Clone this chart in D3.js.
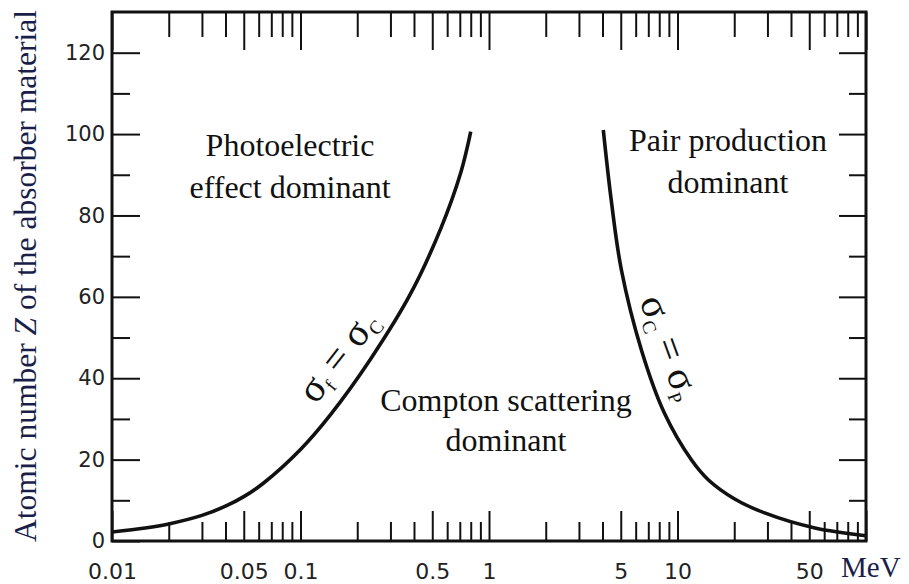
<!DOCTYPE html>
<html>
<head>
<meta charset="utf-8">
<script src="https://cdn.jsdelivr.net/npm/d3@7"></script>
<style>
  html, body { margin: 0; padding: 0; background: #ffffff; }
  svg { display: block; }
</style>
</head>
<body>
<svg id="chart" width="909" height="584"></svg>
<script>
// ---------- data ----------
// boundary sigma_f = sigma_C (photoelectric / Compton)
const photoE = [0.01, 0.015, 0.02, 0.03, 0.04, 0.05, 0.0635, 0.1, 0.144, 0.236, 0.385, 0.556, 0.71, 0.80];
const photoZ = [2.2, 3.2, 4.2, 6.3, 8.55, 10.9, 14.2, 22.5, 31.0, 44.8, 60.9, 76.9, 90.7, 100.6];
// boundary sigma_C = sigma_p (Compton / pair production)
const pairE = [4.04, 4.45, 5.04, 6.44, 8.53, 11.87, 14.6, 20.0, 29.0, 53.6, 100];
const pairZ = [101, 83.8, 66.6, 46.9, 31.4, 19.9, 15.0, 10.4, 6.9, 3.2, 1.3];

const xLabelTicks = [0.01, 0.05, 0.1, 0.5, 1, 5, 10, 50];
const xMajorTicks = [0.01, 0.05, 0.1, 0.5, 1, 5, 10, 50, 100];
const xMinorTicks = [0.02, 0.03, 0.04, 0.06, 0.07, 0.08, 0.09,
                     0.2, 0.3, 0.4, 0.6, 0.7, 0.8, 0.9,
                     2, 3, 4, 6, 7, 8, 9,
                     20, 30, 40, 60, 70, 80, 90];
const yMajorTicks = [0, 20, 40, 60, 80, 100, 120];
const yMinorTicks = [10, 30, 50, 70, 90, 110];

const xUnit = "MeV";
const yTitle = "Atomic number ";
const yTitleVar = "Z";
const yTitleRest = " of the absorber material";

// ---------- layout ----------
const L = 112, R = 866, T = 12, B = 541;
const svg = d3.select("#chart");

const x = d3.scaleLog().domain([0.01, 100]).range([L, R]);
const y = d3.scaleLinear().domain([0, 130]).range([B, T]);

const ink = "#111";
const labelFont = "'DejaVu Sans', sans-serif";
const serif = "'Liberation Serif', 'Times New Roman', serif";

function styleAxis(g, fontSize) {
  g.select(".domain").remove();
  g.selectAll(".tick line").attr("stroke", ink).attr("stroke-width", 2);
  g.selectAll(".tick text").attr("fill", "#222")
    .attr("font-family", labelFont).attr("font-size", fontSize);
}

// bottom axis
svg.append("g").attr("transform", `translate(0,${B})`)
  .call(d3.axisBottom(x).tickValues(xMinorTicks).tickSize(-19).tickFormat(""))
  .call(g => styleAxis(g, 21));
svg.append("g").attr("transform", `translate(0,${B})`)
  .call(d3.axisBottom(x).tickValues(xMajorTicks).tickSize(-30).tickPadding(22)
        .tickFormat(d => xLabelTicks.includes(d) ? d3.format("~g")(d) : ""))
  .call(g => styleAxis(g, 22));

// top axis
svg.append("g").attr("transform", `translate(0,${T})`)
  .call(d3.axisTop(x).tickValues(xMinorTicks).tickSize(-25).tickFormat(""))
  .call(g => styleAxis(g, 21));
svg.append("g").attr("transform", `translate(0,${T})`)
  .call(d3.axisTop(x).tickValues(xMajorTicks).tickSize(-38).tickFormat(""))
  .call(g => styleAxis(g, 21));

// left axis
svg.append("g").attr("transform", `translate(${L},0)`)
  .call(d3.axisLeft(y).tickValues(yMinorTicks).tickSize(-18).tickFormat(""))
  .call(g => styleAxis(g, 21));
svg.append("g").attr("transform", `translate(${L},0)`)
  .call(d3.axisLeft(y).tickValues(yMajorTicks).tickSize(-28).tickPadding(7).tickFormat(d3.format("d")))
  .call(g => styleAxis(g, 21));

// right axis
svg.append("g").attr("transform", `translate(${R},0)`)
  .call(d3.axisRight(y).tickValues(yMinorTicks).tickSize(-17).tickFormat(""))
  .call(g => styleAxis(g, 21));
svg.append("g").attr("transform", `translate(${R},0)`)
  .call(d3.axisRight(y).tickValues(yMajorTicks.filter(d => d > 0)).tickSize(-27).tickFormat(""))
  .call(g => styleAxis(g, 21));

// frame
svg.append("rect").attr("x", L).attr("y", T).attr("width", R - L).attr("height", B - T)
  .attr("fill", "none").attr("stroke", ink).attr("stroke-width", 3);

// curves
const line = d3.line().x(d => x(d[0])).y(d => y(d[1])).curve(d3.curveCatmullRom.alpha(0.5));
const photoPts = photoE.map((e, i) => [e, photoZ[i]]);
const pairPts = pairE.map((e, i) => [e, pairZ[i]]);
svg.append("path").datum(photoPts).attr("d", line)
  .attr("fill", "none").attr("stroke", ink).attr("stroke-width", 3.6);
svg.append("path").datum(pairPts).attr("d", line)
  .attr("fill", "none").attr("stroke", ink).attr("stroke-width", 3.6);

// unit label
svg.append("text").attr("x", 841).attr("y", 577)
  .attr("font-family", serif).attr("font-size", 29).attr("fill", "#1a1f4a")
  .text(xUnit);

// y title
const yt = svg.append("text")
  .attr("transform", "translate(36,276) rotate(-90)")
  .attr("text-anchor", "middle")
  .attr("font-family", serif).attr("font-size", 31.5).attr("fill", "#1a1f4a");
yt.append("tspan").text(yTitle);
yt.append("tspan").attr("font-style", "italic").text(yTitleVar);
yt.append("tspan").text(yTitleRest);

// region labels
function block(cx, lines, y0, dy) {
  const t = svg.append("text").attr("text-anchor", "middle")
    .attr("font-family", serif).attr("font-size", 32).attr("fill", "#111");
  lines.forEach((s, i) => t.append("tspan").attr("x", cx).attr("y", y0 + i * dy).text(s));
}
block(290, ["Photoelectric", "effect dominant"], 156, 42);
block(728, ["Pair production", "dominant"], 151, 42);
block(506, ["Compton scattering", "dominant"], 411, 40);

// sigma labels
function sigmaLabel(cx, cy, angle, sub1, sub2) {
  const t = svg.append("text")
    .attr("transform", `translate(${cx},${cy}) rotate(${angle})`)
    .attr("text-anchor", "middle")
    .attr("font-family", serif).attr("font-size", 40).attr("fill", "#111");
  t.append("tspan").text("σ");
  t.append("tspan").attr("font-size", 19).attr("dy", 6).text(sub1);
  t.append("tspan").attr("dy", -6).text(" = σ");
  t.append("tspan").attr("font-size", 19).attr("dy", 6).text(sub2);
}
sigmaLabel(348, 364, -52, "f", "C");
sigmaLabel(658, 352, 70, "C", "P");
</script>
</body>
</html>
